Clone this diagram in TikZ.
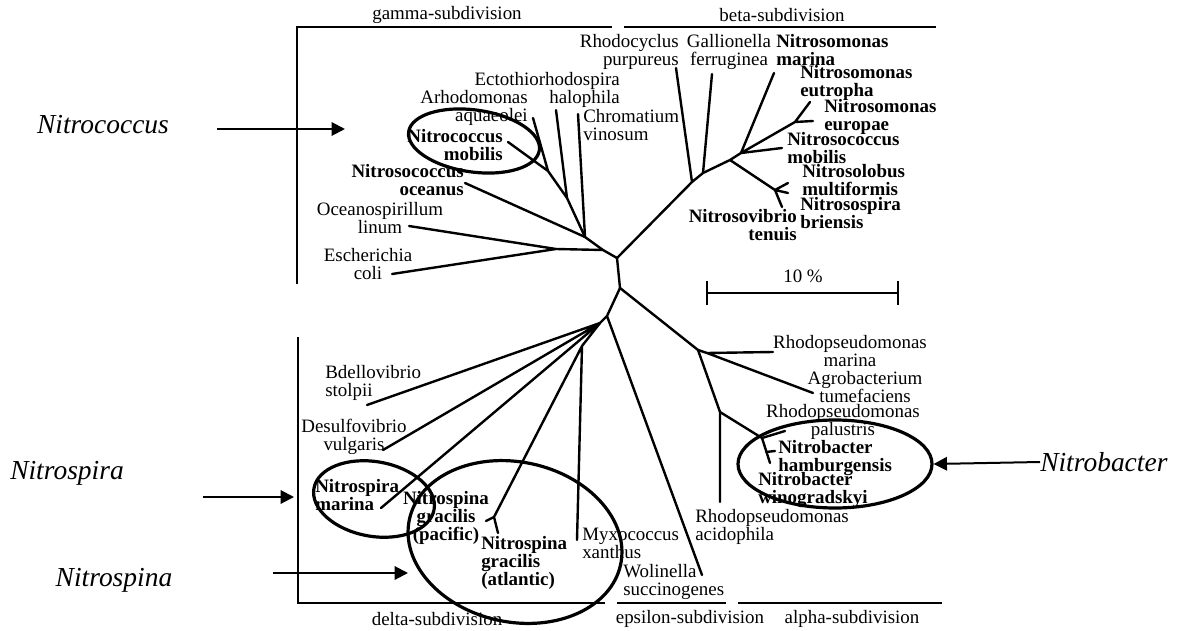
\documentclass[tikz,border=0pt]{standalone}
\usepackage{fontspec}
\setmainfont{Liberation Serif}
\usetikzlibrary{shapes.geometric, arrows.meta}
\newcommand{\taxfont}{\fontsize{14.2}{13.5}\selectfont}
\newcommand{\grpfont}{\fontsize{20.6}{24}\selectfont\itshape}

\begin{document}
\begin{tikzpicture}[x=0.75pt,y=-0.75pt,
  branch/.style={line width=1.8pt,line join=round,line cap=round},
  rule/.style={line width=1.4pt},
  taxon/.style={font=\taxfont,inner sep=0pt},
  nitro/.style={font=\taxfont\bfseries,inner sep=0pt},
  group/.style={font=\grpfont,inner sep=0pt},
  ring/.style={draw,shape=ellipse,line width=2.4pt,inner sep=0pt},
  pointer/.style={line width=1.5pt,-{Triangle[length=10pt,width=10pt]}}]
  \useasboundingbox (0,0) rectangle (1184,631);

  % subdivisions
  \node[taxon] (gamma) at (447,15) {gamma-subdivision};
  \node[taxon] (beta) at (782,15) {beta-subdivision};
  \node[taxon] (delta) at (437,619) {delta-subdivision};
  \node[taxon] (epsilon) at (690,619) {epsilon-subdivision};
  \node[taxon] (alpha) at (852,619) {alpha-subdivision};
  \path (297,284) coordinate (gl0) (297,27) coordinate (gl1) (612,27) coordinate (gl2)
    (624,27) coordinate (bl1) (936,27) coordinate (bl2)
    (298,337) coordinate (dl0) (298,603) coordinate (dl1) (605,603) coordinate (dl2)
    (617,603) coordinate (el1) (726,603) coordinate (el2)
    (738,603) coordinate (al1) (942,603) coordinate (al2);
  \draw[rule] (gl0) -- (gl1) -- (gl2) (bl1) -- (bl2);
  \draw[rule] (dl0) -- (dl1) -- (dl2) (el1) -- (el2) (al1) -- (al2);

  % taxa
  \node[taxon,anchor=east,align=right] (rhodocyclus) at (679,52) {Rhodocyclus\\purpureus};
  \node[taxon,align=center] (gallionella) at (729,52) {Gallionella\\ferruginea};
  \node[nitro,anchor=west,align=left] (nsmarina) at (776,50) {Nitrosomonas\\marina};
  \node[nitro,anchor=west,align=left] (nseutropha) at (800,83) {Nitrosomonas\\eutropha};
  \node[nitro,anchor=west,align=left] (nseuropae) at (824,117) {Nitrosomonas\\europae};
  \node[nitro,anchor=west,align=left] (ncmobilis) at (787,148) {Nitrosococcus\\mobilis};
  \node[nitro,anchor=west,align=left] (nlobus) at (802,180) {Nitrosolobus\\multiformis};
  \node[nitro,anchor=west,align=left] (nspira) at (800,213) {Nitrosospira\\briensis};
  \node[nitro,anchor=east,align=right] (nvibrio) at (797,225) {Nitrosovibrio\\tenuis};
  \node[taxon,anchor=east,align=right] (ecto) at (620,90) {Ectothiorhodospira\\halophila};
  \node[taxon,anchor=west,align=left] (chromatium) at (583,125) {Chromatium\\vinosum};
  \node[taxon,anchor=east,align=right] (arhodo) at (528,108) {Arhodomonas\\aquaeolei};
  \node[nitro,anchor=east,align=right] (nococcus) at (503,145) {Nitrococcus\\mobilis};
  \node[nitro,anchor=east,align=right] (nsoceanus) at (464,180) {Nitrosococcus\\oceanus};
  \node[taxon,align=center] (oceano) at (380,218) {Oceanospirillum\\linum};
  \node[taxon,align=center] (ecoli) at (368,264) {Escherichia\\coli};
  \node[taxon,anchor=west,align=left] (bdello) at (325,383) {Bdellovibrio\\stolpii};
  \node[taxon,align=center] (desulfo) at (354,437) {Desulfovibrio\\vulgaris};
  \node[nitro,anchor=west,align=left] (nspmarina) at (315,495) {Nitrospira\\marina};
  \node[nitro,align=center] (pacific) at (446,518) {Nitrospina\\gracilis\\(pacific)};
  \node[nitro,anchor=west,align=left] (atlantic) at (481,563) {Nitrospina\\gracilis\\(atlantic)};
  \node[taxon,anchor=west,align=left] (myxo) at (582,543) {Myxococcus\\xanthus};
  \node[taxon,anchor=west,align=left] (wolinella) at (623,582) {Wolinella\\succinogenes};
  \node[taxon,anchor=west,align=left] (acido) at (695,527) {Rhodopseudomonas\\acidophila};
  \node[taxon,align=center] (rpmarina) at (850,351) {Rhodopseudomonas\\marina};
  \node[taxon,align=center] (agro) at (865,387) {Agrobacterium\\tumefaciens};
  \node[taxon,align=center] (palustris) at (843,422) {Rhodopseudomonas\\palustris};
  \node[nitro,anchor=west,align=left] (hamburg) at (778,458) {Nitrobacter\\hamburgensis};
  \node[nitro,anchor=west,align=left] (winograd) at (758,490) {Nitrobacter\\winogradskyi};

  % tree
  \path (617,258) coordinate (a) (620,288) coordinate (b) (607,316) coordinate (d0)
    (603,250) coordinate (g0) (585,237) coordinate (g1) (567,198) coordinate (g2)
    (548,171) coordinate (g3) (556,249) coordinate (e0)
    (692,182) coordinate (b1) (703,173) coordinate (b2) (730,160) coordinate (b3)
    (741,153) coordinate (b4) (795,122) coordinate (b5) (775,190) coordinate (b6)
    (698,350) coordinate (p1) (707,353) coordinate (p1a) (720,412) coordinate (p2)
    (762,438) coordinate (q) (766,452) coordinate (q2)
    (600,323) coordinate (d1) (582,346) coordinate (d2) (494,517) coordinate (d3);
  \path (392,274) coordinate (t-ecoli) (409,226) coordinate (t-oceano)
    (465,183) coordinate (t-oceanus) (578,114) coordinate (t-chrom)
    (556,110) coordinate (t-ecto) (533,118) coordinate (t-arhodo)
    (508,142) coordinate (t-nococcus)
    (676,68) coordinate (t-rhodocyc) (712,74) coordinate (t-gallio)
    (774,73) coordinate (t-nsmarina) (782,148) coordinate (t-ncmob)
    (810,102) coordinate (t-eutropha) (813,121) coordinate (t-europae)
    (788,183) coordinate (t-lobus) (788,193) coordinate (t-spira) (782,207) coordinate (t-vibrio)
    (773,352) coordinate (t-rpmarina) (813,393) coordinate (t-agro)
    (720,502) coordinate (t-acido) (785,431) coordinate (t-palus)
    (770,463) coordinate (t-nbwino) (775,451) coordinate (t-nbham)
    (702,575) coordinate (t-wolin) (367,405) coordinate (t-bdello)
    (383,450) coordinate (t-desulfo) (381,508) coordinate (t-nspmar)
    (486,521) coordinate (t-pacific) (498,533) coordinate (t-atlantic)
    (577,540) coordinate (t-myxo);
  \draw[branch] (a) -- (g0) -- (g1) -- (g2) -- (g3) -- (t-arhodo) (g3) -- (t-nococcus);
  \draw[branch] (g2) -- (t-ecto) (g1) -- (t-chrom) (g1) -- (t-oceanus);
  \draw[branch] (g0) -- (e0) -- (t-ecoli) (e0) -- (t-oceano);
  \draw[branch] (a) -- (b1) -- (b2) -- (b3) -- (b4) -- (b5) -- (t-eutropha) (b5) -- (t-europae);
  \draw[branch] (b1) -- (t-rhodocyc) (b2) -- (t-gallio) (b4) -- (t-nsmarina) (b4) -- (t-ncmob);
  \draw[branch] (b3) -- (b6) -- (t-lobus) (b6) -- (t-spira) (b6) -- (t-vibrio);
  \draw[branch] (a) -- (b) -- (p1) -- (p1a) -- (t-agro) (p1a) -- (t-rpmarina);
  \draw[branch] (p1) -- (p2) -- (t-acido) (p2) -- (q) -- (t-palus) (q) -- (t-nbwino) (q2) -- (t-nbham);
  \draw[branch] (b) -- (d0) -- (t-wolin) (d0) -- (d1) -- (t-bdello) (d1) -- (t-desulfo) (d1) -- (t-nspmar);
  \draw[branch] (d1) -- (d2) -- (t-myxo) (d2) -- (d3) -- (t-pacific) (d3) -- (t-atlantic);

  % scale
  \node[taxon] (scalelbl) at (803,276) {10 \%};
  \path (707,293) coordinate (sb1) (898,293) coordinate (sb2);
  \draw[rule] (sb1) -- (sb2) ([yshift=-9]sb1) -- ([yshift=9]sb1) ([yshift=-9]sb2) -- ([yshift=9]sb2);

  % groups
  \node[ring,rotate=-8,minimum width=99pt,minimum height=46.5pt] (ringcoccus) at (474,141) {};
  \node[ring,rotate=-10,minimum width=91.5pt,minimum height=56pt] (ringspira) at (374,499) {};
  \node[ring,rotate=-12,minimum width=162pt,minimum height=120pt] (ringspina) at (515,542) {};
  \node[ring,minimum width=145.5pt,minimum height=66pt] (ringbacter) at (835,464) {};
  \node[group] (grpcoccus) at (103,125) {Nitrococcus};
  \node[group] (grpspira) at (67,473) {Nitrospira};
  \node[group] (grpspina) at (114,580) {Nitrospina};
  \node[group,anchor=west] (grpbacter) at (1040,462) {Nitrobacter};
  \path (217,129) coordinate (pc0) (345,129) coordinate (pc1)
    (203,497) coordinate (pr0) (294,497) coordinate (pr1)
    (273,573) coordinate (pn0) (408,573) coordinate (pn1);
  \draw[pointer] (pc0) -- (pc1);
  \draw[pointer] (pr0) -- (pr1);
  \draw[pointer] (pn0) -- (pn1);
  \draw[pointer] (grpbacter.west) -- (ringbacter.east);
\end{tikzpicture}
\end{document}
